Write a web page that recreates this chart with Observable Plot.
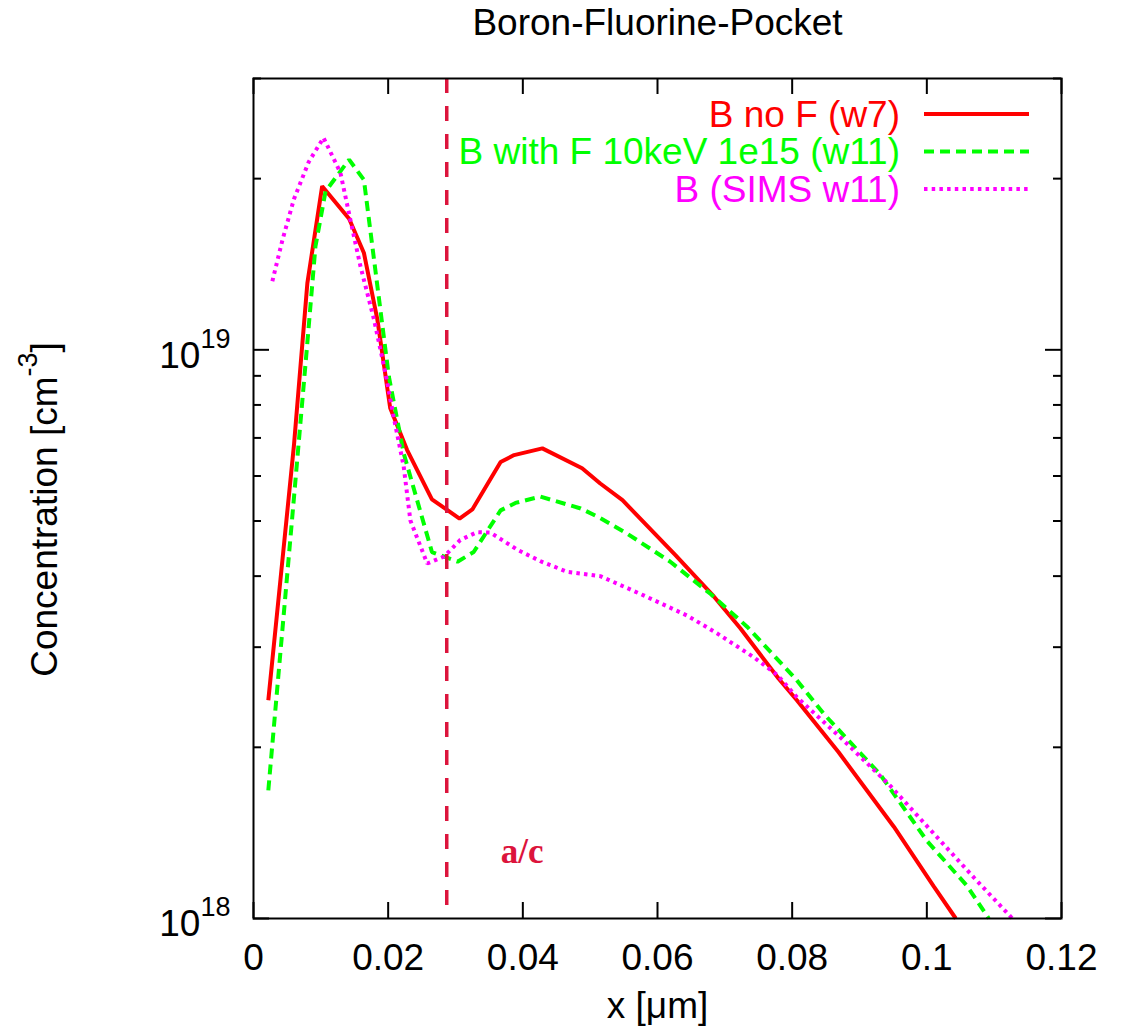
<!DOCTYPE html>
<html>
<head>
<meta charset="utf-8">
<script src="https://cdn.jsdelivr.net/npm/d3@7"></script>
<script src="https://cdn.jsdelivr.net/npm/@observablehq/plot@0.6"></script>
<style>
  html, body { margin: 0; padding: 0; background: #fff; }
  svg { display: block; }
</style>
</head>
<body>
<div id="chart"></div>
<script>
// ---------------- data ----------------
const titleText = "Boron-Fluorine-Pocket";
const xLabel = "x [μm]";
const yLabel = "Concentration [cm^-3]";

const seriesNames = ["B no F (w7)", "B with F 10keV 1e15 (w11)", "B (SIMS w11)"];
const seriesColors = ["#ff0000", "#00ff00", "#ff00ff"];
const seriesDash = [null, "10,6", "3.5,4.2"];

const redX = [0.0022, 0.004, 0.006, 0.008, 0.0102, 0.0142, 0.0164, 0.0184, 0.0203, 0.0228, 0.0265, 0.0306, 0.0325, 0.0367, 0.0387, 0.0429, 0.0488, 0.0515, 0.0548, 0.0627, 0.0684, 0.0723, 0.078, 0.0807, 0.0869, 0.0951, 0.101, 0.1043];
const redY = [2.42e18, 3.94e18, 6.78e18, 1.31e19, 1.94e19, 1.70e19, 1.48e19, 1.13e19, 7.9e18, 6.67e18, 5.46e18, 5.05e18, 5.24e18, 6.35e18, 6.53e18, 6.71e18, 6.19e18, 5.82e18, 5.44e18, 4.35e18, 3.68e18, 3.24e18, 2.64e18, 2.42e18, 1.96e18, 1.45e18, 1.14e18, 1.0e18];

const greenX = [0.0022, 0.004, 0.006, 0.008, 0.0092, 0.0107, 0.0142, 0.0164, 0.0201, 0.0223, 0.0265, 0.0303, 0.0327, 0.0367, 0.0389, 0.0426, 0.0486, 0.0515, 0.0555, 0.0619, 0.0679, 0.0733, 0.0805, 0.0847, 0.0931, 0.100, 0.106, 0.1092];
const greenY = [1.68e18, 2.94e18, 5.48e18, 1.03e19, 1.52e19, 1.90e19, 2.16e19, 1.99e19, 8.98e18, 6.58e18, 4.41e18, 4.24e18, 4.41e18, 5.22e18, 5.38e18, 5.52e18, 5.26e18, 5.06e18, 4.75e18, 4.24e18, 3.72e18, 3.26e18, 2.64e18, 2.29e18, 1.79e18, 1.37e18, 1.14e18, 1.0e18];

const simsX = [0.0028, 0.0043, 0.006, 0.0082, 0.0104, 0.0129, 0.0144, 0.0159, 0.0179, 0.0196, 0.0208, 0.0223, 0.0233, 0.0258, 0.0283, 0.0307, 0.0332, 0.0352, 0.0392, 0.0426, 0.0466, 0.0515, 0.0575, 0.0644, 0.0689, 0.0743, 0.0778, 0.0807, 0.0872, 0.0946, 0.102, 0.107, 0.1127];
const simsY = [1.32e19, 1.56e19, 1.84e19, 2.14e19, 2.36e19, 2.05e19, 1.69e19, 1.40e19, 1.13e19, 9.1e18, 7.64e18, 6.24e18, 5.01e18, 4.21e18, 4.33e18, 4.63e18, 4.78e18, 4.77e18, 4.45e18, 4.25e18, 4.07e18, 4.0e18, 3.72e18, 3.41e18, 3.17e18, 2.88e18, 2.68e18, 2.45e18, 2.08e18, 1.71e18, 1.37e18, 1.18e18, 1.0e18];

const acLineX = 0.0287;            // amorphous/crystalline boundary
const acLabel = "a/c";
const acLabelX = 0.0399;
const acLabelY = 1.31e18;

const xDomain = [0, 0.12];
const yDomain = [1e18, 3e19];
const xTicks = [0, 0.02, 0.04, 0.06, 0.08, 0.1, 0.12];
const xTickLabels = ["0", "0.02", "0.04", "0.06", "0.08", "0.1", "0.12"];
const yMajor = [1e18, 1e19];
const yTickLabels = ["10^18", "10^19"];
const yMinor = [2e18, 3e18, 4e18, 5e18, 6e18, 7e18, 8e18, 9e18, 2e19, 3e19];

// ---------------- build ----------------
const seriesX = [redX, greenX, simsX];
const seriesY = [redY, greenY, simsY];
const W = 1126, H = 1031;
const mL = 253, mR = 65, mT = 78, mB = 113;
const fw = W - mL - mR, fh = H - mT - mB;
const FONT = "'Liberation Sans', Arial, Helvetica, sans-serif";
const FS = 37;
const majorLen = 16, minorLen = 8;

const lineMarks = seriesNames.map((name, s) => {
  const rows = seriesX[s].map((x, i) => ({x, y: seriesY[s][i]}));
  const opts = {x: "x", y: "y", stroke: seriesColors[s], strokeWidth: 4, strokeLinecap: "butt", strokeLinejoin: "miter"};
  if (seriesDash[s]) opts.strokeDasharray = seriesDash[s];
  return Plot.line(rows, opts);
});

const xLabelMap = new Map(xTicks.map((t, i) => [t, xTickLabels[i]]));

function legendMark(index, scales, values, dimensions) {
  const {width, marginRight, marginTop} = dimensions;
  const right = width - marginRight;
  const g = d3.create("svg:g").attr("aria-label", "legend");
  seriesNames.forEach((name, i) => {
    const cy = marginTop + 36 + i * 37.5;
    g.append("text")
      .attr("x", right - 161).attr("y", cy).attr("dy", "0.35em")
      .attr("text-anchor", "end")
      .attr("font-family", FONT).attr("font-size", FS)
      .attr("fill", seriesColors[i])
      .text(name);
    const ln = g.append("line")
      .attr("x1", right - 137).attr("x2", right - 32)
      .attr("y1", cy).attr("y2", cy)
      .attr("stroke", seriesColors[i]).attr("stroke-width", 4);
    if (seriesDash[i]) ln.attr("stroke-dasharray", seriesDash[i]);
  });
  return g.node();
}

const chart = Plot.plot({
  width: W, height: H,
  marginLeft: mL, marginRight: mR, marginTop: mT, marginBottom: mB,
  style: {fontFamily: FONT, fontSize: FS + "px", background: "#fff", color: "#000"},
  x: {domain: xDomain, axis: null},
  y: {type: "log", domain: yDomain, axis: null},
  marks: [
    // data curves
    ...lineMarks,
    // a/c boundary
    Plot.ruleX([acLineX], {x: d => d, stroke: "#dc143c", strokeWidth: 3.5, strokeDasharray: "15,13"}),
    Plot.text([{x: acLabelX, y: acLabelY}], {x: "x", y: "y", text: () => acLabel, fill: "#dc143c",
      fontFamily: "'Liberation Serif', 'Times New Roman', serif", fontWeight: "bold", fontSize: 35}),
    // inward ticks on all four sides
    Plot.ruleX(xTicks, {x: d => d, insetTop: fh - majorLen, stroke: "#000", strokeWidth: 2}),
    Plot.ruleX(xTicks, {x: d => d, insetBottom: fh - majorLen, stroke: "#000", strokeWidth: 2}),
    Plot.ruleY(yMajor, {y: d => d, insetRight: fw - majorLen, stroke: "#000", strokeWidth: 2}),
    Plot.ruleY(yMajor, {y: d => d, insetLeft: fw - majorLen, stroke: "#000", strokeWidth: 2}),
    Plot.ruleY(yMinor, {y: d => d, insetRight: fw - minorLen, stroke: "#000", strokeWidth: 2}),
    Plot.ruleY(yMinor, {y: d => d, insetLeft: fw - minorLen, stroke: "#000", strokeWidth: 2}),
    Plot.frame({stroke: "#000", strokeWidth: 2}),
    // x tick labels
    Plot.axisX(xTicks, {anchor: "bottom", tickSize: 0, tickPadding: 25, fontSize: FS,
      tickFormat: d => xLabelMap.get(d) ?? String(d), label: null}),
    // y tick labels (superscripts added below)
    Plot.text(yMajor, {y: d => d, text: (d, i) => yTickLabels[i], frameAnchor: "left", textAnchor: "end",
      dx: -23, dy: 6, fontSize: FS}),
    // axis titles
    Plot.text([xLabel], {text: d => d, frameAnchor: "bottom", textAnchor: "middle", lineAnchor: "middle", dy: 88, fontSize: FS}),
    Plot.text([yLabel], {text: d => d, frameAnchor: "left", textAnchor: "middle", dx: -208, dy: 11, rotate: -90, fontSize: FS}),
    // title
    Plot.text([titleText], {text: d => d, frameAnchor: "top", textAnchor: "middle", lineAnchor: "middle", dy: -55, fontSize: FS}),
    // legend
    legendMark
  ]
});

// turn "a^b" into real superscripts
function superscriptify(el, supSize, rise) {
  const t = el.textContent;
  const m = t.match(/^(.*?)\^(-?\d+)(.*)$/);
  if (!m) return;
  const s = d3.select(el);
  s.text(null);
  s.append("tspan").text(m[1]);
  s.append("tspan").attr("dy", -rise).attr("font-size", supSize).text(m[2]);
  if (m[3]) s.append("tspan").attr("dy", rise).text(m[3]);
}
chart.querySelectorAll("text").forEach(el => {
  if (el.textContent.includes("^")) superscriptify(el, 27, 20);
});

document.getElementById("chart").appendChild(chart);
</script>
</body>
</html>
